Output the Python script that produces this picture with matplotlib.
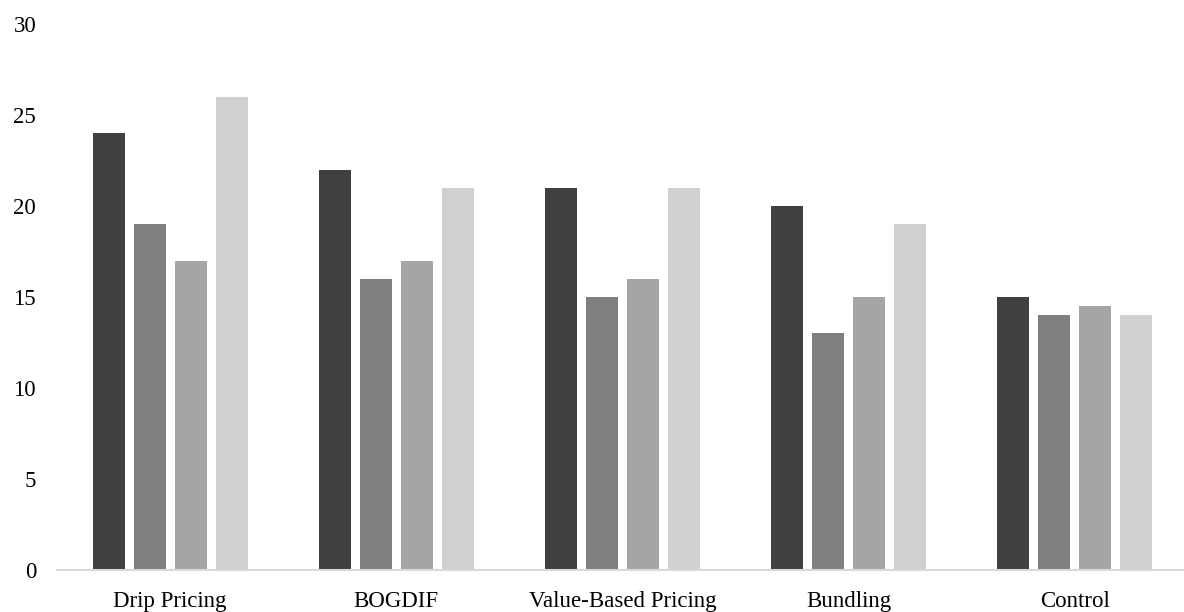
import numpy as np
import matplotlib.pyplot as plt

categories = ["Drip Pricing", "BOGDIF", "Value-Based Pricing", "Bundling", "Control"]
series_1 = [24, 22, 21, 20, 15]
series_2 = [19, 16, 15, 13, 14]
series_3 = [17, 17, 16, 15, 14.5]
series_4 = [26, 21, 21, 19, 14]
colors = ["#404040", "#7f7f7f", "#a5a5a5", "#d0d0d0"]

plt.rcParams["font.family"] = ["Liberation Serif", "DejaVu Serif"]

fig = plt.figure(figsize=(11.84, 6.12), dpi=100)
ax = fig.add_axes([57 / 1184, 1 - 570 / 612, 1131 / 1184, 546 / 612])

x = np.arange(len(categories))
width = 0.1414
pitch = 0.181
for i, (vals, c) in enumerate(zip([series_1, series_2, series_3, series_4], colors)):
    ax.bar(x + (i - 1.5) * pitch, vals, width=width, color=c, zorder=2)

ax.set_xlim(-0.5, len(categories) - 0.5)
ax.set_ylim(0, 30)
ax.set_yticks(range(0, 31, 5))
ax.set_xticks(x)
ax.set_xticklabels(categories)
ax.tick_params(axis="both", length=0, labelsize=16.5, colors="black")
ax.tick_params(axis="y", pad=15)
ax.tick_params(axis="x", pad=14.8)

for side in ["top", "right", "left"]:
    ax.spines[side].set_visible(False)
ax.spines["bottom"].set_color("#d9d9d9")
ax.spines["bottom"].set_linewidth(1.5)

fig.savefig("out.png", dpi=100)
